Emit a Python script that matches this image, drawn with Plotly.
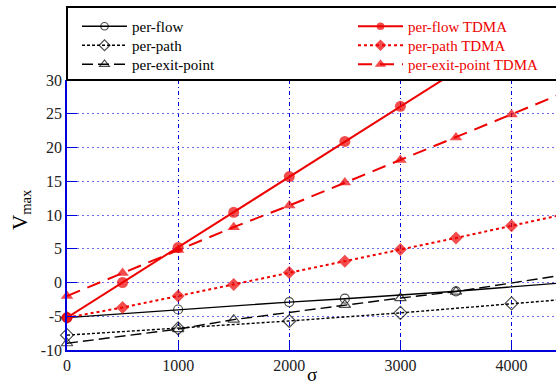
import plotly.graph_objects as go

# ---- data ----
flow_x = [0, 1000, 2000, 2500, 3500, 4500]
flow_y = [-5.2, -4.0, -2.9, -2.4, -1.3, 0.0]

path_x = [0, 1000, 2000, 3000, 4000, 5000]
path_y = [-7.8, -6.8, -5.7, -4.5, -3.1, -1.8]

exit_x = [0, 1000, 1500, 2500, 3000, 3500, 4500]
exit_y = [-9.0, -6.9, -5.5, -3.3, -2.3, -1.35, 1.2]

tdma_x = [0, 500, 1000, 1500, 2000, 2500, 3000, 3500, 4000, 4500]
flow_tdma_y = [-5.2, 0.0, 5.2, 10.4, 15.7, 20.9, 26.1, 31.3, 36.5, 41.7]
path_tdma_y = [-5.2, -3.7, -2.0, -0.3, 1.5, 3.15, 4.9, 6.6, 8.4, 10.2]
exit_tdma_y = [-2.0, 1.4, 4.8, 8.2, 11.4, 14.8, 18.15, 21.5, 24.9, 28.3]

x_ticks = [0, 1000, 2000, 3000, 4000]
x_tick_text = ["0", "1000", "2000", "3000", "4000"]
y_ticks = [-10, -5, 0, 5, 10, 15, 20, 25, 30]
y_tick_text = ["-10", "-5", "0", "5", "10", "15", "20", "25", "30"]

X_MAX = 4400
Y_MIN, Y_MAX = -10, 30

FONT = "Liberation Serif, Times New Roman, serif"
RED = "#ee0000"

PLOT_L, PLOT_W, PLOT_T, PLOT_H = 67, 489, 80, 270


def px_x(p):
    return (p - PLOT_L) / PLOT_W


def px_y(p):
    return (PLOT_T + PLOT_H - p) / PLOT_H


def sizes(xs, ys, s):
    return [s if (x <= X_MAX and Y_MIN <= y <= Y_MAX) else 0 for x, y in zip(xs, ys)]


fig = go.Figure()

row_y = [26.5, 45.5, 64.5]

black = [
    ("per-flow", flow_x, flow_y, "circle-open", 9, "solid"),
    ("per-path", path_x, path_y, "diamond-open", 10, "3px,2px"),
    ("per-exit-point", exit_x, exit_y, "triangle-up-open", 10, "11px,5px"),
]
legends = {}
for i, (name, xs, ys, sym, s, dash) in enumerate(black):
    lg = "legend" if i == 0 else "legend%d" % (i + 1)
    legends[lg] = dict(x=px_x(77), y=px_y(row_y[i]), xanchor="left", yanchor="middle",
                       bgcolor="rgba(0,0,0,0)", borderwidth=0, itemwidth=45,
                       font=dict(family=FONT, size=15, color="black"))
    fig.add_trace(go.Scatter(
        x=xs, y=ys, name=name, mode="lines+markers", cliponaxis=False,
        line=dict(color="black", width=1.4, dash=dash),
        marker=dict(symbol=sym, size=sizes(xs, ys, s), color="black",
                    line=dict(width=1.2, color="black")),
        legend=lg,
    ))

red = [
    ("per-flow TDMA", flow_tdma_y, "circle", 11, "solid"),
    ("per-path TDMA", path_tdma_y, "diamond", 10, "3px,3px"),
    ("per-exit-point TDMA", exit_tdma_y, "triangle-up", 11, "14px,8px"),
]
for i, (name, ys, sym, s, dash) in enumerate(red):
    lg = "legend%d" % (i + 4)
    legends[lg] = dict(x=px_x(353), y=px_y(row_y[i]), xanchor="left", yanchor="middle",
                       bgcolor="rgba(0,0,0,0)", borderwidth=0, itemwidth=45,
                       font=dict(family=FONT, size=15, color=RED))
    fig.add_trace(go.Scatter(
        x=tdma_x, y=ys, name=name,
        mode="lines+markers", cliponaxis=False,
        line=dict(color=RED, width=2, dash=dash),
        marker=dict(symbol=sym, size=sizes(tdma_x, ys, s), color=RED,
                    line=dict(width=0)),
        legend=lg,
    ))

# legend box
fig.add_shape(type="rect", xref="paper", yref="paper",
              x0=0, x1=1.05, y0=1, y1=px_y(7),
              line=dict(color="black", width=2), fillcolor="rgba(0,0,0,0)",
              layer="above")

fig.add_annotation(text="V<sub>max</sub>", xref="paper", yref="paper",
                   x=px_x(21), y=px_y(210), textangle=-90,
                   showarrow=False, xanchor="center", yanchor="middle",
                   font=dict(family=FONT, size=21, color="black"))
fig.add_annotation(text="σ", xref="paper", yref="paper",
                   x=0.5, y=px_y(374),
                   showarrow=False, xanchor="center", yanchor="middle",
                   font=dict(family=FONT, size=19, color="black"))

axis_common = dict(
    showline=True, linecolor="#0000dd", linewidth=1.5, mirror=False,
    ticks="inside", ticklen=10, tickcolor="#0000dd", tickwidth=1,
    tickfont=dict(family=FONT, size=16, color="#222222"),
    showgrid=True, gridwidth=1, zeroline=False,
)

fig.update_layout(
    width=556, height=387,
    margin=dict(l=PLOT_L, r=0, t=PLOT_T, b=387 - PLOT_T - PLOT_H),
    paper_bgcolor="white", plot_bgcolor="white",
    font=dict(family=FONT, size=15, color="black"),
    xaxis=dict(range=[0, X_MAX], tickvals=x_ticks, ticktext=x_tick_text,
               gridcolor="#0000dd", griddash="4px,3px,1px,3px", **axis_common),
    yaxis=dict(range=[Y_MIN, Y_MAX], tickvals=y_ticks, ticktext=y_tick_text,
               gridcolor="#6a6aee", griddash="2px,3px", **axis_common),
    showlegend=True,
    **legends,
)

fig.write_html("out.html")
